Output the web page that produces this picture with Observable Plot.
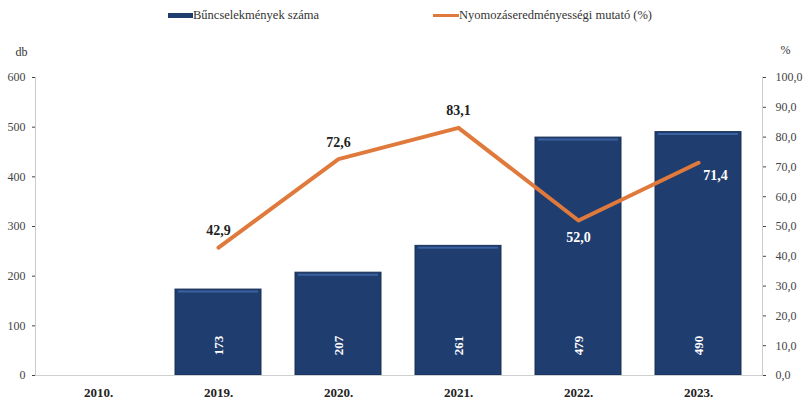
<!DOCTYPE html>
<html>
<head>
<meta charset="utf-8">
<script src="https://cdn.jsdelivr.net/npm/d3@7"></script>
<script src="https://cdn.jsdelivr.net/npm/@observablehq/plot@0.6"></script>
<style>
  body { margin: 0; background: #fff; font-family: "Liberation Serif", "Times New Roman", serif; }
  #wrap { width: 810px; height: 403px; position: relative; }
  #legend { height: 30px; position: relative; font-size: 12.5px; color: #333; }
  .item { position: absolute; top: 8px; display: flex; align-items: center; }
  .sw { display: inline-block; }
  svg, svg text { font-family: "Liberation Serif", "Times New Roman", serif !important; }
</style>
</head>
<body>
<div id="wrap">
  <div id="legend">
    <div class="item" style="left:168px"><span class="sw" style="width:25px;height:5px;background:#1f3d6e"></span><span>Bűncselekmények száma</span></div>
    <div class="item" style="left:433px"><span class="sw" style="width:26px;height:3px;background:#e07a3c"></span><span>Nyomozáseredményességi mutató (%)</span></div>
  </div>
  <div id="chart"></div>
</div>
<script>
const years = ["2010.", "2019.", "2020.", "2021.", "2022.", "2023."];
const crimeYears = ["2019.", "2020.", "2021.", "2022.", "2023."];
const crimes = [173, 207, 261, 479, 490];
const rateYears = ["2019.", "2020.", "2021.", "2022.", "2023."];
const rates = [42.9, 72.6, 83.1, 52.0, 71.4];
const leftTicks = [0, 100, 200, 300, 400, 500, 600];
const rightTicks = [0, 10, 20, 30, 40, 50, 60, 70, 80, 90, 100];

const SCALE = 6; // 100 % corresponds to 600 db
const bars = crimeYears.map((y, i) => ({year: y, value: crimes[i]}));
const line = rateYears.map((y, i) => ({year: y, pct: rates[i], yv: rates[i] * SCALE}));
const fmt = v => v.toFixed(1).replace(".", ",");
const above = line.filter((d, i) => i < 3);
const below = line.filter((d, i) => i === 3);
const right = line.filter((d, i) => i === 4);

const chart = Plot.plot({
  width: 810,
  height: 373,
  marginTop: 47,
  marginBottom: 28,
  marginLeft: 35,
  marginRight: 48,
  style: {fontFamily: "'Liberation Serif', serif", fontSize: "12px", background: "#fff"},
  x: {domain: years, paddingInner: 0.28, paddingOuter: 0.155, label: null},
  y: {domain: [0, 600], label: null},
  marks: [
    Plot.barY(bars, {x: "year", y: "value", fill: "#1f3d6e", stroke: "#183058", strokeWidth: 1}),
    Plot.tickY(bars, {x: "year", y: d => d.value - 4, stroke: "#3a62a0", strokeWidth: 2, inset: 3}),
    Plot.text(bars, {x: "year", y: 0, text: d => String(d.value), rotate: -90, dy: -30, fill: "white", fontWeight: "bold", fontSize: 13}),
    Plot.ruleY([0], {stroke: "#d0d0d0"}),
    Plot.line(line, {x: "year", y: "yv", stroke: "#e07a3c", strokeWidth: 4}),
    Plot.text(above, {x: "year", y: "yv", text: d => fmt(d.pct), dy: -17, fill: "#222", fontWeight: "bold", fontSize: 14}),
    Plot.text(below, {x: "year", y: "yv", text: d => fmt(d.pct), dy: 17, fill: "white", fontWeight: "bold", fontSize: 14}),
    Plot.text(right, {x: "year", y: "yv", text: d => fmt(d.pct), dy: 13, dx: 17, fill: "white", fontWeight: "bold", fontSize: 14}),
    Plot.axisX({tickSize: 0, tickPadding: 12, fontWeight: "bold", fontSize: 13, color: "#222"}),
    Plot.axisY({anchor: "left", ticks: leftTicks, tickSize: 3, tickPadding: 7, color: "#444"}),
    Plot.axisY({anchor: "right", ticks: rightTicks.map(v => v * SCALE), tickFormat: v => fmt(v / SCALE), tickSize: 3, tickPadding: 10, color: "#444", textAnchor: "start"}),
    Plot.frame({anchor: "left", stroke: "#ccc"}),
    Plot.frame({anchor: "right", stroke: "#ccc"}),
    Plot.text(["db"], {frameAnchor: "top-left", dx: -20, dy: -30, fill: "#333", fontSize: 12}),
    Plot.text(["%"], {frameAnchor: "top-right", dx: 28, dy: -32, fill: "#333", fontSize: 12})
  ]
});
document.getElementById("chart").appendChild(chart);
</script>
</body>
</html>
